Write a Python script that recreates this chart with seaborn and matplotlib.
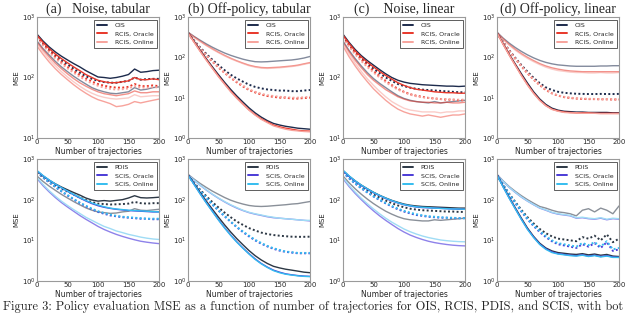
"""Policy evaluation MSE vs number of trajectories (OIS/RCIS and PDIS/SCIS)."""

import matplotlib
matplotlib.use("Agg")
import matplotlib.pyplot as plt
import numpy as np
import seaborn as sns

TRAJ = [0, 10, 20, 30, 40, 50, 60, 70, 80, 90, 100,
        110, 120, 130, 140, 150, 160, 170, 180, 190, 200]

TITLES = ["(a)   Noise, tabular", "(b) Off-policy, tabular",
          "(c)    Noise, linear", "(d) Off-policy, linear"]
TOP_METHODS = ["OIS", "RCIS, Oracle", "RCIS, Online"]
BOTTOM_METHODS = ["PDIS", "SCIS, Oracle", "SCIS, Online"]

# ---- (a) noise, tabular: OIS / RCIS ----
a_ois = [520, 400, 320, 265, 225, 195, 170, 150, 130, 115, 102, 100, 97, 100, 105, 112, 138, 122, 125, 130, 132]
a_ois_dot = [480, 370, 290, 235, 195, 165, 140, 120, 105, 95, 88, 84, 82, 82, 85, 88, 100, 92, 94, 95, 95]
a_ois_lt = [400, 300, 235, 185, 150, 125, 105, 90, 78, 68, 62, 58, 55, 54, 56, 58, 68, 62, 64, 68, 70]
a_or = [500, 380, 300, 245, 205, 175, 150, 130, 112, 100, 90, 85, 82, 82, 85, 88, 100, 92, 92, 95, 92]
a_or_dot = [470, 355, 275, 220, 180, 150, 128, 110, 96, 86, 78, 73, 70, 68, 68, 70, 78, 72, 72, 74, 72]
a_or_lt = [380, 285, 220, 172, 140, 115, 96, 82, 72, 64, 58, 54, 52, 50, 52, 54, 60, 56, 56, 58, 58]
a_on = [330, 240, 180, 140, 112, 92, 76, 64, 55, 48, 43, 40, 37, 33, 34, 36, 40, 38, 40, 42, 44]
a_on_dot = [450, 340, 262, 208, 170, 142, 120, 103, 90, 80, 73, 68, 65, 63, 64, 66, 72, 68, 68, 70, 68]
a_on_lt = [360, 265, 200, 156, 125, 102, 85, 72, 62, 55, 50, 47, 45, 44, 45, 46, 52, 48, 49, 50, 50]

# ---- (b) off-policy, tabular ----
b_ois = [420, 250, 150, 92, 58, 37, 24, 16, 11, 7.8, 5.6, 4.2, 3.3, 2.7, 2.3, 2.1, 1.95, 1.85, 1.75, 1.7, 1.65]
b_ois_dot = [400, 260, 175, 122, 87, 64, 48, 37, 30, 25, 21, 18.5, 17, 16, 15.5, 15, 15, 14.5, 14.5, 15, 15.5]
b_ois_lt = [420, 330, 265, 215, 178, 150, 128, 112, 100, 90, 83, 78, 77, 78, 80, 82, 84, 86, 90, 96, 105]
b_or = [410, 240, 143, 87, 54, 34, 22, 14.5, 10, 7.0, 5.0, 3.8, 3.0, 2.5, 2.1, 1.9, 1.75, 1.65, 1.55, 1.5, 1.48]
b_or_dot = [400, 250, 165, 112, 78, 56, 41, 31, 24, 19, 15.5, 13.5, 12, 11, 10.5, 10, 10, 9.5, 9.5, 9.8, 10]
b_or_lt = [415, 320, 252, 200, 163, 134, 112, 95, 82, 72, 64, 59, 56, 55, 56, 57, 59, 61, 64, 69, 74]
b_on = [400, 235, 140, 85, 53, 33, 21.5, 14, 9.6, 6.8, 4.9, 3.7, 2.9, 2.4, 2.0, 1.8, 1.65, 1.55, 1.5, 1.45, 1.42]
b_on_dot = [400, 252, 167, 114, 80, 57, 42, 32, 25, 20, 16, 14, 12.5, 11.5, 11, 10.5, 10.3, 10, 10, 10.2, 10.5]
b_on_lt = [410, 310, 245, 195, 158, 130, 108, 92, 80, 70, 62, 57, 54, 53, 54, 55, 57, 59, 62, 67, 72]

# ---- (c) noise, linear ----
c_ois = [520, 380, 290, 230, 190, 160, 135, 115, 100, 90, 84, 80, 78, 76, 75, 74, 73, 72, 72, 71, 72]
c_ois_dot = [480, 350, 265, 210, 170, 140, 118, 100, 88, 78, 72, 68, 65, 63, 62, 61, 60, 59, 58, 57, 57]
c_ois_lt = [400, 280, 205, 155, 120, 96, 80, 68, 58, 50, 45, 42, 40, 39, 38, 40, 38, 39, 40, 41, 42]
c_or = [500, 365, 275, 218, 178, 150, 126, 108, 94, 82, 74, 68, 64, 62, 60, 58, 57, 56, 56, 55, 55]
c_or_dot = [470, 340, 255, 198, 158, 128, 105, 88, 75, 65, 58, 53, 50, 48, 46, 45, 44, 43, 43, 42, 42]
c_or_lt = [380, 265, 192, 145, 112, 90, 75, 63, 55, 48, 44, 41, 40, 39, 39, 38, 38, 39, 38, 38, 39]
c_on = [330, 220, 155, 113, 85, 65, 52, 42, 35, 30, 27, 25, 24, 23, 24, 23, 22, 23, 24, 24, 25]
c_on_dot = [450, 325, 242, 187, 149, 121, 100, 84, 72, 63, 57, 52, 49, 47, 46, 45, 44, 44, 43, 43, 43]
c_on_lt = [360, 245, 172, 126, 95, 74, 59, 48, 40, 35, 31, 29, 28, 27, 27, 27, 26, 27, 27, 28, 28]

# ---- (d) off-policy, linear ----
d_ois = [420, 220, 120, 68, 39, 23, 14, 9.3, 6.8, 5.5, 4.9, 4.6, 4.5, 4.4, 4.4, 4.3, 4.3, 4.3, 4.3, 4.2, 4.2]
d_ois_dot = [400, 240, 150, 97, 64, 44, 31, 23, 18, 15.5, 14, 13.2, 12.8, 12.5, 12.4, 12.3, 12.3, 12.4, 12.3, 12.3, 12.4]
d_ois_lt = [420, 300, 225, 175, 140, 115, 97, 84, 75, 69, 65, 63, 61, 60, 60, 60, 60, 61, 61, 62, 62]
d_or = [410, 212, 115, 64, 36, 21, 13, 8.7, 6.4, 5.2, 4.7, 4.4, 4.3, 4.2, 4.2, 4.2, 4.1, 4.1, 4.1, 4.1, 4.1]
d_or_dot = [400, 235, 145, 92, 60, 40, 28, 20.5, 15.5, 12.8, 11.2, 10.3, 9.8, 9.5, 9.3, 9.2, 9.2, 9.1, 9.1, 9.0, 9.0]
d_or_lt = [410, 285, 208, 158, 124, 100, 83, 70, 61, 55, 51, 48, 46, 45, 44, 44, 44, 44, 44, 44, 44]
d_on = [405, 210, 113, 63, 35, 20.5, 12.7, 8.5, 6.3, 5.1, 4.6, 4.3, 4.2, 4.2, 4.1, 4.1, 4.1, 4.0, 4.0, 4.0, 4.0]
d_on_dot = [400, 236, 146, 93, 61, 41, 28.5, 21, 16, 13, 11.4, 10.5, 10, 9.7, 9.5, 9.4, 9.3, 9.2, 9.2, 9.1, 9.1]
d_on_lt = [400, 278, 200, 150, 117, 94, 78, 66, 57, 51, 47, 45, 43, 42, 42, 41, 41, 42, 41, 41, 42]

# ---- (e) noise, tabular: PDIS / SCIS ----
e_pd = [500, 380, 300, 245, 205, 175, 150, 130, 110, 98, 92, 95, 92, 96, 100, 110, 125, 112, 110, 112, 115]
e_pd_dot = [470, 355, 278, 225, 187, 158, 134, 114, 98, 87, 80, 78, 76, 77, 78, 80, 88, 82, 80, 82, 82]
e_pd_lt = [380, 280, 215, 170, 135, 110, 90, 75, 63, 55, 50, 48, 46, 47, 50, 52, 60, 55, 54, 56, 58]
e_so = [510, 385, 300, 240, 195, 160, 132, 110, 93, 80, 71, 65, 61, 58, 56, 54, 53, 52, 51, 50, 50]
e_so_dot = [480, 350, 265, 205, 160, 127, 102, 83, 69, 58, 50, 45, 41, 39, 37, 36, 35, 34, 34, 33, 33]
e_so_lt = [330, 220, 155, 113, 85, 66, 52, 41, 33, 27, 22, 18.5, 16, 14, 12.5, 11.3, 10.3, 9.5, 9, 8.6, 8.3]
e_sn = [520, 390, 305, 243, 198, 163, 135, 113, 96, 83, 74, 67, 62, 59, 57, 55, 54, 53, 52, 51, 50]
e_sn_dot = [490, 355, 270, 208, 163, 130, 104, 85, 71, 60, 52, 47, 43, 40, 38, 37, 36, 35, 34, 34, 34]
e_sn_lt = [350, 235, 166, 122, 92, 72, 57, 46, 37, 31, 26, 22, 19.5, 17, 15.5, 14, 13, 12, 11.3, 10.8, 10.5]

# ---- (f) off-policy, tabular ----
f_pd = [420, 250, 150, 92, 58, 37, 24, 16, 11, 7.8, 5.6, 4.2, 3.3, 2.7, 2.3, 2.1, 1.95, 1.85, 1.75, 1.65, 1.6]
f_pd_dot = [400, 260, 175, 122, 87, 64, 48, 37, 29, 24, 20, 17.5, 15.5, 14.3, 13.5, 13, 12.6, 12.3, 12.2, 12.2, 12.3]
f_pd_lt = [420, 320, 250, 200, 162, 135, 113, 97, 86, 78, 72, 69, 68, 69, 71, 73, 75, 78, 80, 85, 90]
f_so = [410, 238, 140, 84, 52, 32, 20.5, 13.5, 9.2, 6.5, 4.7, 3.5, 2.7, 2.2, 1.85, 1.65, 1.5, 1.42, 1.36, 1.32, 1.3]
f_so_dot = [400, 250, 163, 110, 76, 54, 39, 28.5, 21, 16, 12.5, 10, 8.3, 7.1, 6.2, 5.6, 5.2, 5.0, 4.8, 4.8, 4.8]
f_so_lt = [410, 300, 225, 172, 135, 108, 88, 73, 62, 54, 48, 44, 41, 38, 36, 35, 34, 33, 32, 31, 30]
f_sn = [400, 235, 138, 83, 51, 31.5, 20, 13.2, 9.0, 6.4, 4.6, 3.4, 2.65, 2.15, 1.8, 1.6, 1.47, 1.4, 1.34, 1.3, 1.28]
f_sn_dot = [400, 252, 165, 112, 77, 55, 40, 29, 21.5, 16.5, 13, 10.3, 8.6, 7.3, 6.4, 5.8, 5.3, 5.1, 4.9, 4.9, 4.9]
f_sn_lt = [410, 302, 228, 175, 137, 110, 90, 75, 64, 55, 49, 45, 42, 39, 37, 35, 34, 33, 32, 31, 31]

# ---- (g) noise, linear ----
g_pd = [520, 380, 290, 228, 185, 152, 128, 110, 96, 86, 78, 73, 70, 68, 67, 66, 65, 64, 63, 62, 62]
g_pd_dot = [480, 350, 262, 204, 164, 134, 112, 95, 82, 72, 65, 60, 57, 55, 54, 53, 52, 51, 51, 50, 50]
g_pd_lt = [380, 260, 185, 136, 103, 80, 64, 52, 44, 38, 34, 32, 31, 30, 30, 32, 31, 32, 33, 34, 35]
g_so = [510, 372, 282, 222, 180, 148, 125, 107, 93, 83, 75, 70, 66, 64, 63, 62, 61, 60, 59, 58, 58]
g_so_dot = [470, 335, 248, 190, 150, 120, 98, 81, 68, 58, 51, 46, 42, 40, 38, 37, 36, 36, 35, 35, 35]
g_so_lt = [330, 210, 142, 100, 72, 53, 40, 31, 24.5, 19.5, 16, 13.5, 11.8, 10.5, 9.5, 8.8, 8.3, 7.9, 7.6, 7.4, 7.3]
g_sn = [530, 385, 290, 228, 184, 151, 127, 109, 95, 84, 76, 71, 67, 65, 64, 62, 61, 60, 59, 59, 58]
g_sn_dot = [480, 340, 252, 193, 152, 122, 100, 83, 70, 60, 53, 48, 44, 41, 39, 38, 37, 36, 36, 35, 35]
g_sn_lt = [350, 225, 153, 108, 79, 59, 45, 35, 28, 23, 19, 16.3, 14.3, 12.8, 11.7, 10.9, 10.2, 9.8, 9.5, 9.3, 9.2]

# ---- (h) off-policy, linear ----
h_pd = [420, 215, 115, 63, 35, 20, 12.5, 8.5, 6.5, 5.5, 5.0, 4.8, 4.6, 4.5, 4.7, 4.4, 4.6, 4.3, 4.5, 4.1, 4.0]
h_pd_dot = [400, 230, 140, 88, 56, 37, 26, 19, 15, 12.5, 11, 10.5, 10, 9.5, 12, 11, 13, 10, 14, 9, 11]
h_pd_lt = [420, 290, 210, 160, 125, 100, 82, 68, 62, 55, 50, 48, 45, 40, 55, 60, 50, 62, 55, 45, 70]
h_so = [410, 208, 110, 60, 33, 19, 12, 8.1, 6.2, 5.2, 4.7, 4.5, 4.3, 4.2, 4.4, 4.1, 4.3, 4.0, 4.2, 3.9, 3.8]
h_so_dot = [400, 225, 133, 82, 51, 33, 22.5, 16, 12, 9.5, 8, 7.5, 7, 6.5, 8, 7, 8.5, 6.5, 9, 5.5, 6]
h_so_lt = [410, 280, 200, 150, 115, 92, 75, 62, 55, 48, 44, 42, 40, 35, 36, 34, 33, 35, 32, 34, 33]
h_sn = [405, 205, 108, 59, 32.5, 18.5, 11.7, 7.9, 6.0, 5.0, 4.6, 4.4, 4.2, 4.1, 4.3, 4.0, 4.2, 3.9, 4.1, 3.8, 3.8]
h_sn_dot = [400, 228, 136, 84, 53, 34, 23.5, 17, 12.8, 10, 8.5, 8, 7.5, 7, 8.6, 7.6, 9, 7, 9.5, 6, 6.5]
h_sn_lt = [405, 282, 202, 152, 117, 93, 76, 63, 56, 49, 45, 43, 41, 36, 37, 35, 34, 36, 33, 35, 34]

TOP_COLORS = ["#1d2b4c", "#e8372a", "#f7a39c"]
BOTTOM_COLORS = ["#2c3744", "#4b3bd6", "#35bdef"]
BOTTOM_LIGHT = ["#8a9099", "#8e82ea", "#9fdcf5"]

PANELS = [
    [(a_ois, a_ois_dot, a_ois_lt), (a_or, a_or_dot, a_or_lt), (a_on, a_on_dot, a_on_lt)],
    [(b_ois, b_ois_dot, b_ois_lt), (b_or, b_or_dot, b_or_lt), (b_on, b_on_dot, b_on_lt)],
    [(c_ois, c_ois_dot, c_ois_lt), (c_or, c_or_dot, c_or_lt), (c_on, c_on_dot, c_on_lt)],
    [(d_ois, d_ois_dot, d_ois_lt), (d_or, d_or_dot, d_or_lt), (d_on, d_on_dot, d_on_lt)],
    [(e_pd, e_pd_dot, e_pd_lt), (e_so, e_so_dot, e_so_lt), (e_sn, e_sn_dot, e_sn_lt)],
    [(f_pd, f_pd_dot, f_pd_lt), (f_so, f_so_dot, f_so_lt), (f_sn, f_sn_dot, f_sn_lt)],
    [(g_pd, g_pd_dot, g_pd_lt), (g_so, g_so_dot, g_so_lt), (g_sn, g_sn_dot, g_sn_lt)],
    [(h_pd, h_pd_dot, h_pd_lt), (h_so, h_so_dot, h_so_lt), (h_sn, h_sn_dot, h_sn_lt)],
]
YMIN = [10, 1, 10, 1, 1, 1, 1, 1]

sns.set_style("white")
plt.rcParams["font.family"] = ["DejaVu Sans"]

W, H = 640, 314
fig = plt.figure(figsize=(W / 100, H / 100), dpi=100)

lefts = [37, 188, 343, 497]
rows = [(17, 138), (159, 281)]

for k, series in enumerate(PANELS):
    row, col = divmod(k, 4)
    top, bot = rows[row]
    ax = fig.add_axes([lefts[col] / W, 1 - bot / H, 122 / W, (bot - top) / H])
    if row == 0:
        colors, lights, names = TOP_COLORS, TOP_COLORS, TOP_METHODS
        light_alpha = 0.55
    else:
        colors, lights, names = BOTTOM_COLORS, BOTTOM_LIGHT, BOTTOM_METHODS
        light_alpha = 1.0

    # light variants first, then dotted, then solid on top
    for (solid, dot, light), c, lc in zip(series, colors, lights):
        sns.lineplot(x=TRAJ, y=light, ax=ax, color=lc, alpha=light_alpha, lw=1.0)
    for (solid, dot, light), c in zip(series, colors):
        sns.lineplot(x=TRAJ, y=dot, ax=ax, color=c, lw=1.4, linestyle=(0, (1, 1.2)))
    handles = []
    for (solid, dot, light), c, name in zip(series, colors, names):
        sns.lineplot(x=TRAJ, y=solid, ax=ax, color=c, lw=1.0)
        handles.append(plt.Line2D([], [], color=c, lw=1.4, label=name))

    ax.set_yscale("log")
    ax.set_xlim(0, 200)
    ax.set_ylim(YMIN[k], 1000)
    ax.set_xticks([0, 50, 100, 150, 200])
    ax.yaxis.set_minor_locator(matplotlib.ticker.NullLocator())
    ax.tick_params(labelsize=5, pad=1, length=0)
    for s in ax.spines.values():
        s.set_color("#9a9a9a")
        s.set_linewidth(0.8)
    ax.set_ylabel("MSE", fontsize=5, labelpad=2)
    ax.set_xlabel("Number of trajectories", fontsize=5.5, labelpad=1)

    leg = ax.legend(handles=handles, loc="upper right", fontsize=4.5,
                    handlelength=1.6, handletextpad=1.2, borderpad=0.5,
                    labelspacing=0.5, fancybox=False, framealpha=1,
                    borderaxespad=0.4)
    leg.get_frame().set_edgecolor("#444444")
    leg.get_frame().set_linewidth(0.6)

    if row == 0:
        ax.set_title(TITLES[col], fontsize=10, family="Liberation Serif", pad=3)

fig.text(3 / W, 1 - 300 / H,
         "Figure 3: Policy evaluation MSE as a function of number of trajectories "
         "for OIS, RCIS, PDIS, and SCIS, with bot",
         fontsize=8.9, family="cmr10", va="top", ha="left")

fig.savefig("out.png", dpi=100)
plt.close(fig)
